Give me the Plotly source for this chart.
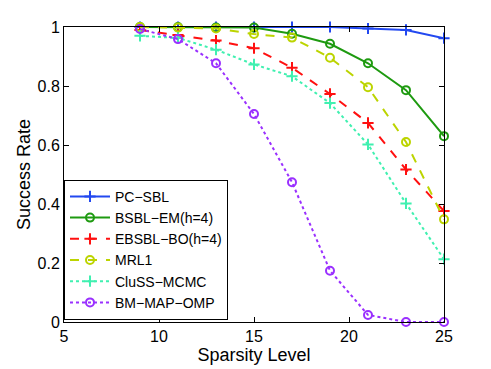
import plotly.graph_objects as go

sparsity = [9, 11, 13, 15, 17, 19, 21, 23, 25]

pc_sbl = [1.0, 1.0, 1.0, 1.0, 1.0, 1.0, 0.995, 0.99, 0.962]
bsbl_em = [1.0, 1.0, 0.998, 0.998, 0.977, 0.943, 0.877, 0.786, 0.63]
ebsbl_bo = [0.99, 0.973, 0.954, 0.928, 0.862, 0.773, 0.675, 0.517, 0.376]
mrl1 = [1.0, 0.998, 0.995, 0.976, 0.964, 0.896, 0.796, 0.61, 0.348]
cluss_mcmc = [0.97, 0.963, 0.923, 0.873, 0.833, 0.742, 0.602, 0.402, 0.213]
bm_map_omp = [0.993, 0.959, 0.877, 0.705, 0.474, 0.174, 0.024, 0.0, 0.0]

series = [
    ("PC\u2212SBL", pc_sbl, "#2248f0", "solid", "cross-thin-open"),
    ("BSBL\u2212EM(h=4)", bsbl_em, "#1e9a10", "solid", "circle-open"),
    ("EBSBL\u2212BO(h=4)", ebsbl_bo, "#ff1010", "dash", "cross-thin-open"),
    ("MRL1", mrl1, "#bcd400", "dash", "circle-open"),
    ("CluSS\u2212MCMC", cluss_mcmc, "#40f0b0", "dot", "cross-thin-open"),
    ("BM\u2212MAP\u2212OMP", bm_map_omp, "#9a30ff", "dot", "circle-open"),
]

fig = go.Figure()

for name, vals, color, dash, symbol in series:
    fig.add_trace(go.Scatter(
        x=sparsity,
        y=vals,
        mode='lines+markers',
        name=name,
        line=dict(color=color, width=2, dash=dash),
        marker=dict(symbol=symbol, size=8, color=color,
                    line=dict(color=color, width=2)),
        cliponaxis=False
    ))

# page body adds an 8px margin, so the figure is 8px smaller than the window
fig.update_layout(
    width=483,
    height=361,
    margin=dict(l=56, r=47, t=19, b=47),
    plot_bgcolor='white',
    paper_bgcolor='white',
    font=dict(family="Liberation Sans, Arial, sans-serif", size=16, color='black'),
    legend=dict(
        x=0, y=0.482,
        xanchor='left', yanchor='top',
        bgcolor='white',
        bordercolor='black',
        borderwidth=1,
        font=dict(size=14),
        itemwidth=40,
        tracegroupgap=0
    ),
    showlegend=True
)

fig.update_xaxes(
    range=[5, 25],
    tickvals=[5, 10, 15, 20, 25],
    ticks='inside', ticklen=5, tickcolor='black',
    showline=True, linecolor='black', linewidth=1, mirror='allticks',
    showgrid=False, zeroline=False, automargin=False,
    title=dict(text='Sparsity Level', font=dict(size=18), standoff=0)
)
fig.update_yaxes(
    range=[0, 1],
    tickvals=[0, 0.2, 0.4, 0.6, 0.8, 1],
    ticktext=['0', '0.2', '0.4', '0.6', '0.8', '1'],
    ticks='inside', ticklen=5, tickcolor='black',
    showline=True, linecolor='black', linewidth=1, mirror='allticks',
    showgrid=False, zeroline=False, automargin=False,
    title=dict(text='Success Rate', font=dict(size=18), standoff=2)
)

fig.write_html("out.html")
